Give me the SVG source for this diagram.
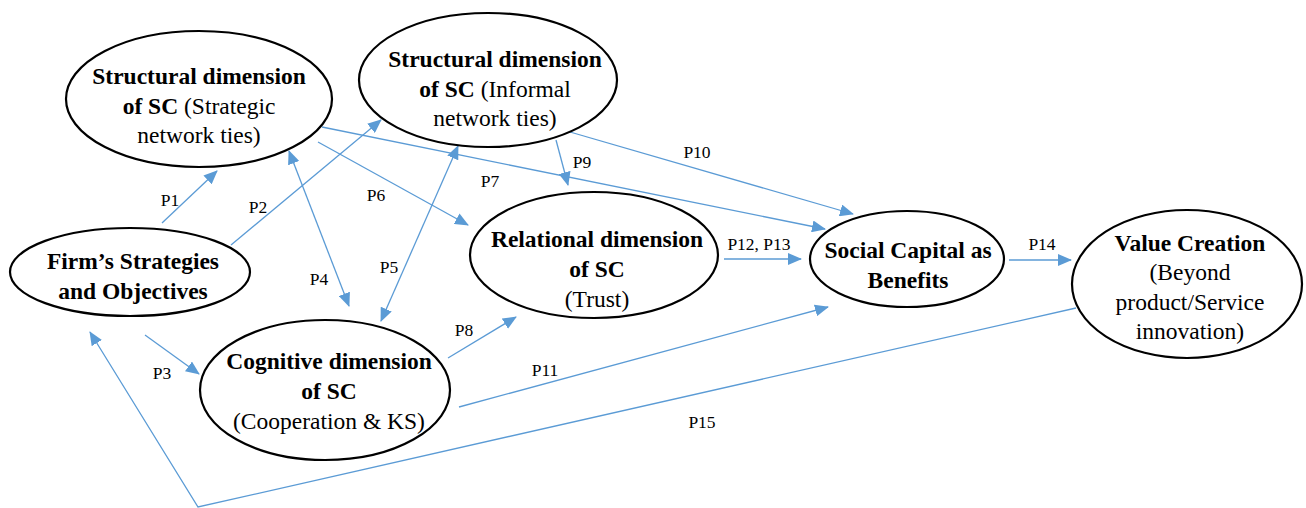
<svg xmlns="http://www.w3.org/2000/svg" width="1306" height="508" viewBox="0 0 1306 508">
<defs>
<marker id="ah" markerUnits="userSpaceOnUse" markerWidth="14" markerHeight="12" refX="13" refY="6" orient="auto-start-reverse">
<path d="M0,0 L14,6 L0,12 Z" fill="#5B9BD5"/>
</marker>
<style>
.n{fill:#fff;stroke:#000;stroke-width:2.2}
.t{font-family:'Liberation Serif','Times New Roman',serif;font-size:23.5px;fill:#000;text-anchor:middle}
.b{font-weight:bold}
.c{stroke:#5B9BD5;stroke-width:1.3;fill:none}
.a{marker-end:url(#ah)}
.d{marker-start:url(#ah);marker-end:url(#ah)}
.l{font-family:'Liberation Serif','Times New Roman',serif;font-size:17.5px;fill:#000;text-anchor:middle}
</style>
</defs>
<rect width="1306" height="508" fill="#fff"/>
<g id="connectors">
<line class="c a" x1="162" y1="223" x2="217" y2="171"/>
<line class="c a" x1="231" y1="245" x2="381" y2="120"/>
<line class="c a" x1="145" y1="335" x2="199" y2="374"/>
<line class="c d" x1="289" y1="151" x2="349" y2="306"/>
<line class="c d" x1="458" y1="146" x2="381" y2="321"/>
<line class="c a" x1="318" y1="142" x2="468" y2="225"/>
<line class="c a" x1="322" y1="127" x2="825" y2="229"/>
<line class="c a" x1="556" y1="140" x2="568" y2="185"/>
<line class="c a" x1="570" y1="132" x2="853" y2="214"/>
<line class="c a" x1="448" y1="358" x2="516" y2="317"/>
<line class="c a" x1="459" y1="407" x2="828" y2="307"/>
<line class="c a" x1="724" y1="259" x2="801" y2="259"/>
<line class="c a" x1="1009" y1="260" x2="1071" y2="260"/>
<polyline class="c a" points="1076,308 198,507 90,332"/>
</g>
<g id="labels">
<text class="l" x="170" y="206">P1</text>
<text class="l" x="258" y="213">P2</text>
<text class="l" x="162" y="379">P3</text>
<text class="l" x="319" y="285">P4</text>
<text class="l" x="389" y="273">P5</text>
<text class="l" x="376" y="201">P6</text>
<text class="l" x="490" y="187">P7</text>
<text class="l" x="582" y="168">P9</text>
<text class="l" x="697" y="158">P10</text>
<text class="l" x="464" y="336">P8</text>
<text class="l" x="545" y="376">P11</text>
<text class="l" x="759" y="250">P12, P13</text>
<text class="l" x="1042" y="250">P14</text>
<text class="l" x="702" y="428">P15</text>
</g>
<g id="node-strategic">
<ellipse class="n" cx="199" cy="99" rx="133" ry="68"/>
<text class="t" y="84" x="199"><tspan class="b">Structural dimension</tspan></text>
<text class="t" y="114" x="199"><tspan class="b">of SC</tspan> (Strategic</text>
<text class="t" y="143" x="199">network ties)</text>
</g>
<g id="node-informal">
<ellipse class="n" cx="488" cy="80" rx="129" ry="67"/>
<text class="t" y="67" x="495"><tspan class="b">Structural dimension</tspan></text>
<text class="t" y="97" x="495"><tspan class="b">of SC</tspan> (Informal</text>
<text class="t" y="126" x="495">network ties)</text>
</g>
<g id="node-firm">
<ellipse class="n" cx="130" cy="272" rx="120" ry="44"/>
<text class="t b" y="269" x="133">Firm’s Strategies</text>
<text class="t b" y="299" x="133">and Objectives</text>
</g>
<g id="node-relational">
<ellipse class="n" cx="594" cy="255" rx="124" ry="63"/>
<text class="t b" y="247" x="597">Relational dimension</text>
<text class="t b" y="277" x="597">of SC</text>
<text class="t" y="307" x="597">(Trust)</text>
</g>
<g id="node-cognitive">
<ellipse class="n" cx="325" cy="390" rx="125" ry="70"/>
<text class="t b" y="369" x="329">Cognitive dimension</text>
<text class="t b" y="399" x="329">of SC</text>
<text class="t" y="429" x="329">(Cooperation &amp; KS)</text>
</g>
<g id="node-social">
<ellipse class="n" cx="907" cy="259" rx="97" ry="48"/>
<text class="t b" y="258" x="908">Social Capital as</text>
<text class="t b" y="288" x="908">Benefits</text>
</g>
<g id="node-value">
<ellipse class="n" cx="1187" cy="284" rx="115" ry="74"/>
<text class="t b" y="251" x="1190">Value Creation</text>
<text class="t" y="280" x="1190">(Beyond</text>
<text class="t" y="310" x="1190">product/Service</text>
<text class="t" y="339" x="1190">innovation)</text>
</g>
</svg>
